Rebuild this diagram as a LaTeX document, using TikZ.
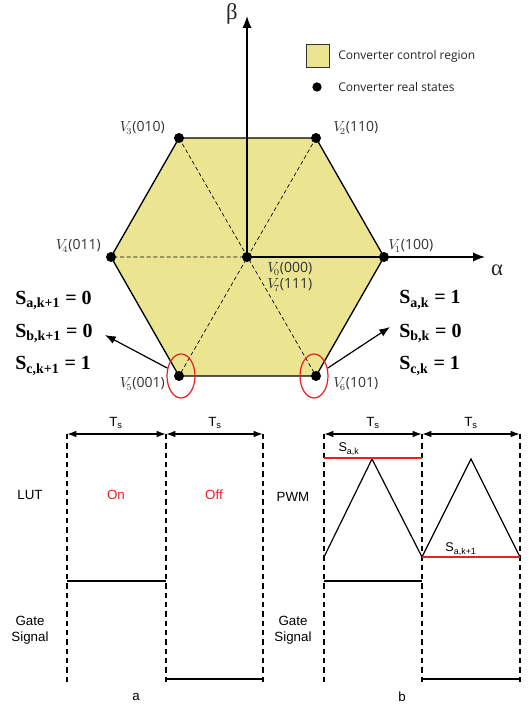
\documentclass[tikz,border=0pt]{standalone}
\usepackage{fontspec}
\usetikzlibrary{shapes.geometric,arrows.meta}
\newfontfamily\lsans{Liberation Sans}
\newfontfamily\osans{Open Sans}
\newfontfamily\tnr{Liberation Serif}
\definecolor{hexfill}{RGB}{235,229,146}
\definecolor{lblgray}{RGB}{50,50,50}
\definecolor{myred}{RGB}{235,30,35}
\begin{document}
\begin{tikzpicture}[x=0.75pt,y=-0.75pt,
  dot/.style={circle,fill=black,inner sep=0pt,minimum size=7.5pt},
  vlab/.style={font=\osans\fontsize{10.5}{12}\selectfont,text=lblgray,inner sep=0pt},
  leglab/.style={font=\osans\fontsize{9}{11}\selectfont,text=black!85,inner sep=0pt,anchor=west},
  slab/.style={font=\tnr\bfseries\fontsize{15}{17}\selectfont,inner sep=0pt,anchor=west},
  tlab/.style={font=\lsans\fontsize{10}{12}\selectfont,inner sep=0pt},
  hexdash/.style={dashed,dash pattern=on 3pt off 2pt,line width=0.5pt},
  vdash/.style={dashed,dash pattern=on 4pt off 3pt,line width=0.8pt},
  sig/.style={line width=0.9pt},
  tsarrow/.style={{Latex[length=7pt,width=5pt]}-{Latex[length=7pt,width=5pt]},line width=1.1pt},
  redline/.style={myred,line width=1pt},
  ellip/.style={draw=myred,ellipse,line width=0.9pt,minimum width=21pt,minimum height=33pt,inner sep=0pt}
]
\useasboundingbox (0,0) rectangle (529,706);
% hexagon
\coordinate (c) at (247,257);
\coordinate (v1) at (384,257);
\coordinate (v2) at (316,138);
\coordinate (v3) at (179,138);
\coordinate (v4) at (111,257);
\coordinate (v5) at (179,376);
\coordinate (v6) at (316,376);
\fill[hexfill] (v1)--(v2)--(v3)--(v4)--(v5)--(v6)--cycle;
\draw[hexdash] (v1)--(v4) (v2)--(v5) (v3)--(v6);
\draw[line width=1pt,line join=round] (v1)--(v2)--(v3)--(v4)--(v5)--(v6)--cycle;
% axes
\coordinate (btip) at (247,16);
\coordinate (atip) at (485,257);
\draw[line width=1.1pt,-{Latex[length=9pt,width=7pt]}] (c)--(btip);
\draw[line width=1.1pt,-{Latex[length=9pt,width=7pt]}] (c)--(atip);
\node[font=\tnr\fontsize{17}{19}\selectfont,inner sep=0pt,text=black!85] (beta) at (232,14) {β};
\node[font=\tnr\fontsize{17}{19}\selectfont,inner sep=0pt,text=black!85] (alpha) at (497,270) {α};
% dots
\foreach \n in {c,v1,v2,v3,v4,v5,v6} \node[dot] (d\n) at (\n) {};
% vertex labels
\node[vlab,anchor=east] (l3) at (165,128) {$V_{\!3}$(010)};
\node[vlab,anchor=west] (l2) at (333,128) {$V_{\!2}$(110)};
\node[vlab,anchor=east] (l4) at (101,246) {$V_{\!4}$(011)};
\node[vlab,anchor=west] (l1) at (388,246) {$V_{\!1}$(100)};
\node[vlab,anchor=west] (l0) at (267,269) {$V_{\!0}$(000)};
\node[vlab,anchor=west] (l7) at (267,285) {$V_{\!7}$(111)};
\node[vlab,anchor=east] (l5) at (165,384) {$V_{\!5}$(001)};
\node[vlab,anchor=west] (l6) at (333,384) {$V_{\!6}$(101)};
% legend
\node[draw=black!80,fill=hexfill,line width=0.8pt,minimum size=17pt,inner sep=0pt] (legbox) at (318,56) {};
\node[leglab] (legt1) at (338,56) {Converter control region};
\node[dot,minimum size=7pt] (legdot) at (317,87) {};
\node[leglab] (legt2) at (338,87) {Converter real states};
% red ellipses
\node[ellip] (e5) at (181,376) {};
\node[ellip] (e6) at (314,376) {};
\coordinate (la) at (105,335);
\coordinate (ra) at (390,327);
\draw[line width=0.9pt,-{Latex[length=8pt,width=6pt]}] (e5.150)--(la);
\draw[line width=0.9pt,-{Latex[length=8pt,width=6pt]}] (e6.30)--(ra);
% switching state labels
\node[slab] (sl1) at (15,300) {S\textsubscript{a,k+1} = 0};
\node[slab] (sl2) at (15,333) {S\textsubscript{b,k+1} = 0};
\node[slab] (sl3) at (15,366) {S\textsubscript{c,k+1} = 1};
\node[slab] (sr1) at (399,300) {S\textsubscript{a,k} = 1};
\node[slab] (sr2) at (399,333) {S\textsubscript{b,k} = 0};
\node[slab] (sr3) at (399,366) {S\textsubscript{c,k} = 1};
% ===== panel a =====
\foreach \nm/\x in {a0/67,a1/166,a2/263,b0/324,b1/422,b2/520}{
  \coordinate (\nm t) at (\x,434);
  \coordinate (\nm b) at (\x,682);
}
\foreach \nm in {a0,a1,a2,b0,b1,b2} \draw[vdash] (\nm t)--(\nm b);
\draw[tsarrow] (a0t)--(a1t);
\draw[tsarrow] (a1t)--(a2t);
\draw[tsarrow] (b0t)--(b1t);
\draw[tsarrow] (b1t)--(b2t);
\node[tlab] (tsa1) at (116,423) {T\textsubscript{s}};
\node[tlab] (tsa2) at (215,423) {T\textsubscript{s}};
\node[tlab] (tsb1) at (373,423) {T\textsubscript{s}};
\node[tlab] (tsb2) at (471,423) {T\textsubscript{s}};
\node[tlab] (lut) at (30,495) {LUT};
\node[tlab,text=myred] (on) at (116,495) {On};
\node[tlab,text=myred] (off) at (214,495) {Off};
\node[tlab,align=center] (gsa) at (30,630) {Gate\\Signal};
\coordinate (ga1) at (67,581); \coordinate (ga2) at (166,581);
\coordinate (ga3) at (166,679); \coordinate (ga4) at (263,679);
\draw[sig] (ga1)--(ga2);
\draw[sig] (ga3)--(ga4);
\node[tlab] (capa) at (136,697) {a};
% ===== panel b =====
\node[tlab] (pwm) at (293,497) {PWM};
\node[tlab,align=center] (gsb) at (293,630) {Gate\\Signal};
\coordinate (p0) at (324,557); \coordinate (p1) at (372,459);
\coordinate (p2) at (422,557); \coordinate (p3) at (471,459);
\coordinate (p4) at (520,557);
\draw[line width=0.9pt] (p0)--(p1)--(p2)--(p3)--(p4);
\coordinate (r1) at (324,458); \coordinate (r2) at (422,458);
\coordinate (r3) at (422,557); \coordinate (r4) at (520,557);
\draw[redline] (r1)--(r2);
\draw[redline] (r3)--(r4);
\node[tlab,font=\lsans\fontsize{9.5}{11}\selectfont] (sak) at (349,449) {S\textsubscript{a,k}};
\node[tlab,font=\lsans\fontsize{9.5}{11}\selectfont] (sak1) at (461,549) {S\textsubscript{a,k+1}};
\coordinate (gb1) at (324,581); \coordinate (gb2) at (422,581);
\coordinate (gb3) at (422,679); \coordinate (gb4) at (520,679);
\draw[sig] (gb1)--(gb2);
\draw[sig] (gb3)--(gb4);
\node[tlab] (capb) at (402,697) {b};
\end{tikzpicture}
\end{document}
